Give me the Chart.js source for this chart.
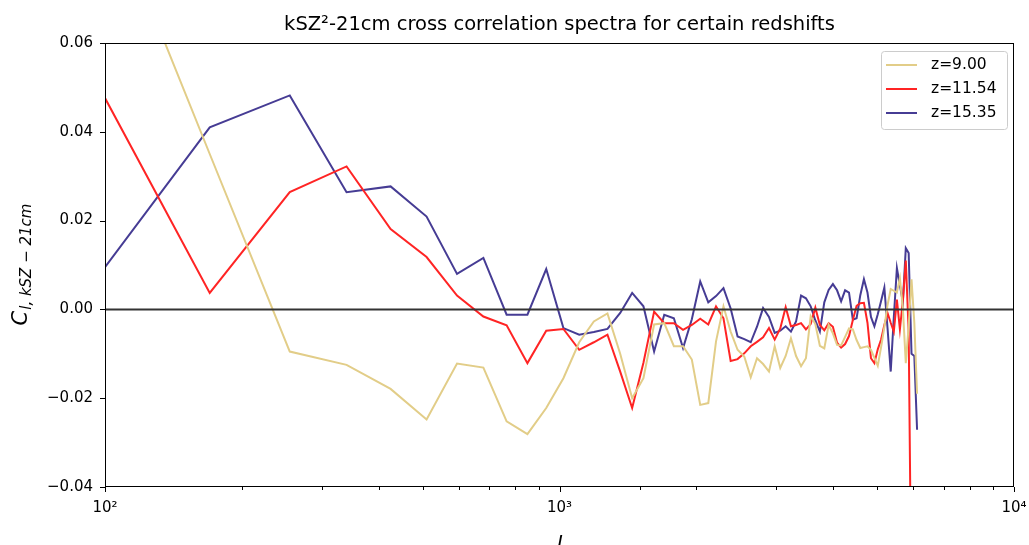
<!DOCTYPE html>
<html>
<head>
<meta charset="utf-8">
<script src="https://cdn.jsdelivr.net/npm/chart.js@4.4.1/dist/chart.umd.min.js"></script>
<style>
    html, body { margin: 0; padding: 0; background: #ffffff; }
    #wrap { width: 1029px; height: 545px; }
</style>
</head>
<body>
<div id="wrap"><canvas id="spectra" width="1029" height="545"></canvas></div>
<script>
// multipoles l
const ells = [
    100, 170, 255, 340, 425, 510, 595, 680, 765, 850,
    935, 1020, 1105, 1190, 1275, 1360, 1445, 1530, 1615, 1700,
    1785, 1870, 1955, 2040, 2125, 2210, 2295, 2380, 2465, 2550,
    2635, 2720, 2805, 2890, 2975, 3060, 3145, 3230, 3315, 3400,
    3485, 3570, 3655, 3740, 3825, 3910, 3995, 4080, 4165, 4250,
    4335, 4420, 4505, 4590, 4675, 4760, 4845, 4930, 5015, 5100,
    5185, 5270, 5355, 5440, 5525, 5610, 5695, 5780, 5865, 5950,
    6035, 6120
];

const clZ900 = [
    0.0935, 0.0350, -0.0095, -0.0125, -0.0179, -0.0248, -0.0122, -0.0131, -0.0252, -0.0281,
    -0.0222, -0.0155, -0.0074, -0.0027, -0.0009, -0.0100, -0.0200, -0.0155, -0.0034, -0.0031,
    -0.0083, -0.0083, -0.0113, -0.0215, -0.0211, -0.0072, 0.0007, -0.0050, -0.0091, -0.0106,
    -0.0153, -0.0110, -0.0123, -0.0140, -0.0083, -0.0132, -0.0105, -0.0065, -0.0105, -0.0128,
    -0.0110, -0.0015, -0.0033, -0.0082, -0.0088, -0.0035, -0.0054, -0.0080, -0.0081, -0.0062,
    -0.0043, -0.0045, -0.0069, -0.0087, -0.0085, -0.0083, -0.0091, -0.0109, -0.0127, -0.0085,
    -0.0040, 0.0010, 0.0046, 0.0042, 0.0038, 0.0070, 0.0002, -0.0121, -0.0037, 0.0068,
    -0.0030, -0.0190
];

const clZ1154 = [
    0.0476, 0.0037, 0.0264, 0.0322, 0.0181, 0.0118, 0.0031, -0.0016, -0.0036, -0.0121,
    -0.0048, -0.0044, -0.0091, -0.0074, -0.0057, -0.0140, -0.0222, -0.0120, -0.0005, -0.0031,
    -0.0031, -0.0046, -0.0035, -0.0021, -0.0034, 0.0007, -0.0020, -0.0116, -0.0112, -0.0099,
    -0.0083, -0.0073, -0.0063, -0.0042, -0.0068, -0.0043, 0.0005, -0.0038, -0.0035, -0.0031,
    -0.0045, -0.0033, 0.0004, -0.0035, -0.0047, -0.0031, -0.0039, -0.0075, -0.0086, -0.0078,
    -0.0060, -0.0024, 0.0008, 0.0014, 0.0015, -0.0030, -0.0110, -0.0121, -0.0090, -0.0068,
    -0.0035, -0.0008, -0.0030, -0.0050, 0.0022, -0.0045, 0.0020, 0.0110, -0.0050, -0.0700,
    -0.1200, -0.1500
];

const clZ1535 = [
    0.0095, 0.0410, 0.0482, 0.0264, 0.0277, 0.0209, 0.0080, 0.0116, -0.0012, -0.0012,
    0.0091, -0.0042, -0.0057, -0.0051, -0.0044, -0.0008, 0.0037, 0.0007, -0.0095, -0.0012,
    -0.0020, -0.0087, -0.0022, 0.0063, 0.0016, 0.0030, 0.0048, 0.0002, -0.0061, -0.0067,
    -0.0074, -0.0039, 0.0003, -0.0017, -0.0053, -0.0048, -0.0038, -0.0050, -0.0027, 0.0031,
    0.0025, 0.0007, -0.0025, -0.0050, 0.0016, 0.0044, 0.0057, 0.0043, 0.0018, 0.0043,
    0.0038, -0.0023, -0.0020, 0.0032, 0.0068, 0.0038, -0.0017, -0.0038, -0.0011, 0.0019,
    0.0049, -0.0043, -0.0140, -0.0017, 0.0093, 0.0054, 0.0016, 0.0138, 0.0127, -0.0100,
    -0.0105, -0.0271
];

const seriesLabels = ["z=9.00", "z=11.54", "z=15.35"];
const seriesColors = ["#e2cd88", "#ff2424", "#463c94"];

const yTicks = [-0.04, -0.02, 0.00, 0.02, 0.04, 0.06];
const xMajorLabels = { 100: "10\u00b2", 1000: "10\u00b3", 10000: "10\u2074" };

const FONT = "'DejaVu Sans', sans-serif";

function toPoints(vals) {
    return vals.map((v, i) => ({ x: ells[i], y: v }));
}

function isMajor(v) {
    const p = Math.log10(v);
    return Math.abs(p - Math.round(p)) < 1e-9;
}

const overlay = {
    id: "overlay",
    afterDatasetsDraw(chart) {
        const { ctx, chartArea, scales } = chart;
        const y0 = scales.y.getPixelForValue(0);
        ctx.save();
        ctx.strokeStyle = "#333333";
        ctx.lineWidth = 2;
        ctx.beginPath();
        ctx.moveTo(chartArea.left, y0);
        ctx.lineTo(chartArea.right, y0);
        ctx.stroke();
        ctx.restore();
    },
    afterDraw(chart) {
        const { ctx, chartArea: a, scales } = chart;
        ctx.save();

        // frame
        ctx.strokeStyle = "#000000";
        ctx.lineWidth = 1;
        ctx.strokeRect(a.left + 0.5, a.top + 0.5, a.right - a.left - 1, a.bottom - a.top - 1);

        // tick marks
        ctx.beginPath();
        scales.x.ticks.forEach(t => {
            const px = Math.round(scales.x.getPixelForValue(t.value)) + 0.5;
            const len = isMajor(t.value) ? 5 : 3;
            ctx.moveTo(px, a.bottom);
            ctx.lineTo(px, a.bottom + len);
        });
        scales.y.ticks.forEach(t => {
            const py = Math.round(scales.y.getPixelForValue(t.value)) + 0.5;
            ctx.moveTo(a.left - 5, py);
            ctx.lineTo(a.left, py);
        });
        ctx.stroke();

        // title
        ctx.fillStyle = "#000000";
        ctx.font = "19.5px " + FONT;
        ctx.textAlign = "center";
        ctx.textBaseline = "alphabetic";
        ctx.fillText("kSZ\u00b2-21cm cross correlation spectra for certain redshifts", (a.left + a.right) / 2, 30);

        // x label
        ctx.font = "italic 21px " + FONT;
        ctx.fillText("l", (a.left + a.right) / 2, 551);

        // y label, rotated, with subscript
        ctx.save();
        ctx.translate(27, (a.top + a.bottom) / 2);
        ctx.rotate(-Math.PI / 2);
        const bigFont = "italic 21px " + FONT;
        const subFont = "italic 15px " + FONT;
        const sub = "l, kSZ \u2212 21cm";
        ctx.font = bigFont;
        const wC = ctx.measureText("C").width;
        ctx.font = subFont;
        const wS = ctx.measureText(sub).width;
        const start = -(wC + wS) / 2;
        ctx.textAlign = "left";
        ctx.font = bigFont;
        ctx.fillText("C", start, 0);
        ctx.font = subFont;
        ctx.fillText(sub, start + wC + 1, 4);
        ctx.restore();

        // legend
        const lx = 881, ly = 51, lw = 126, lh = 78;
        ctx.fillStyle = "rgba(255,255,255,0.8)";
        ctx.strokeStyle = "#cccccc";
        ctx.lineWidth = 1;
        ctx.beginPath();
        ctx.roundRect(lx + 0.5, ly + 0.5, lw, lh, 3);
        ctx.fill();
        ctx.stroke();
        ctx.font = "15.5px " + FONT;
        ctx.textAlign = "left";
        ctx.textBaseline = "middle";
        seriesLabels.forEach((lab, i) => {
            const ry = ly + 14 + i * 24;
            ctx.strokeStyle = seriesColors[i];
            ctx.lineWidth = 2;
            ctx.beginPath();
            ctx.moveTo(lx + 5, ry);
            ctx.lineTo(lx + 36, ry);
            ctx.stroke();
            ctx.fillStyle = "#000000";
            ctx.fillText(lab, lx + 50, ry);
        });

        ctx.restore();
    }
};

const datasets = [clZ900, clZ1154, clZ1535].map((vals, i) => ({
    label: seriesLabels[i],
    data: toPoints(vals),
    borderColor: seriesColors[i],
    backgroundColor: seriesColors[i],
    borderWidth: 2,
    pointRadius: 0,
    tension: 0,
    fill: false,
}));

new Chart(document.getElementById("spectra"), {
    type: "line",
    data: { datasets },
    options: {
        responsive: false,
        animation: false,
        devicePixelRatio: 1,
        layout: { padding: { top: 43, right: 15, left: 0, bottom: 0 } },
        plugins: {
            legend: { display: false },
            title: { display: false },
            tooltip: { enabled: false },
        },
        scales: {
            x: {
                type: "logarithmic",
                min: 100,
                max: 10000,
                grid: { display: false, drawTicks: false },
                border: { display: false },
                afterFit(scale) {
                    scale.height = 58;
                    scale.paddingLeft = 0;
                    scale.paddingRight = 0;
                },
                ticks: {
                    autoSkip: false,
                    maxRotation: 0,
                    padding: 12,
                    color: "#000000",
                    font: { family: FONT, size: 15 },
                    callback: v => xMajorLabels[v] || "",
                },
            },
            y: {
                type: "linear",
                min: -0.04,
                max: 0.06,
                afterBuildTicks(scale) {
                    scale.ticks = yTicks.map(v => ({ value: v }));
                },
                grid: { display: false, drawTicks: false },
                border: { display: false },
                afterFit(scale) {
                    scale.width = 105;
                    scale.paddingTop = 0;
                    scale.paddingBottom = 0;
                },
                ticks: {
                    padding: 12,
                    color: "#000000",
                    font: { family: FONT, size: 15 },
                    callback: v => v.toFixed(2).replace("-", "\u2212"),
                },
            },
        },
    },
    plugins: [overlay],
});
</script>
</body>
</html>
